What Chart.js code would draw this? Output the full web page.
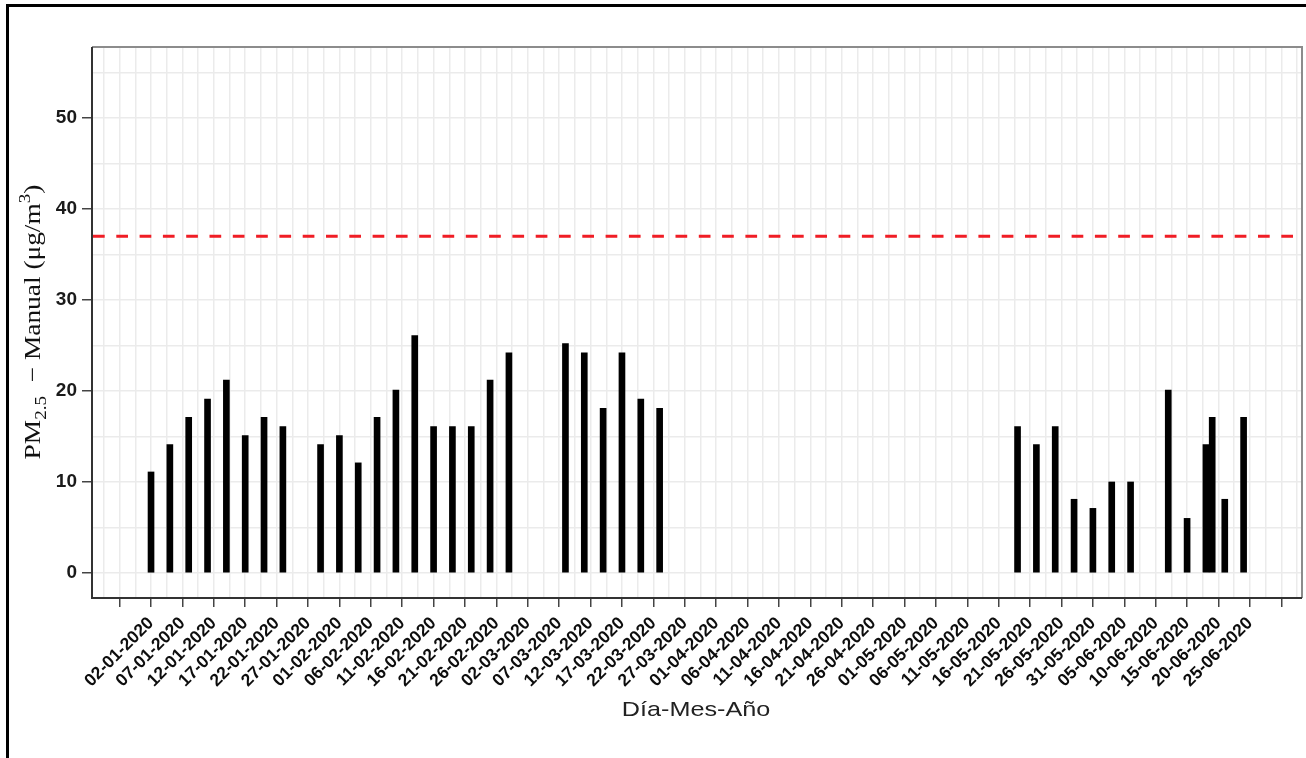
<!DOCTYPE html>
<html><head><meta charset="utf-8">
<script src="https://cdn.jsdelivr.net/npm/chart.js@4.4.1/dist/chart.umd.min.js"></script>
<style>
html,body{margin:0;padding:0;background:#fff;overflow:hidden;}
#wrap{position:relative;width:1306px;height:758px;overflow:hidden;}
#frame{position:absolute;left:6px;top:4px;width:1400px;height:900px;border-top:3px solid #000;border-left:3px solid #000;pointer-events:none;}
canvas{position:absolute;left:0;top:0;}
</style></head><body>
<div id="wrap"><canvas id="c" width="1306" height="758"></canvas><div id="frame"></div></div>
<script>
const sampleDates = ['02-01-2020','05-01-2020','08-01-2020','11-01-2020','14-01-2020','17-01-2020','20-01-2020','23-01-2020','29-01-2020','01-02-2020','04-02-2020','07-02-2020','10-02-2020','13-02-2020','16-02-2020','19-02-2020','22-02-2020','25-02-2020','28-02-2020','08-03-2020','11-03-2020','14-03-2020','17-03-2020','20-03-2020','23-03-2020','19-05-2020','22-05-2020','25-05-2020','28-05-2020','31-05-2020','03-06-2020','06-06-2020','12-06-2020','15-06-2020','18-06-2020','19-06-2020','21-06-2020','24-06-2020'];
const pm25Values = [11.1,14.1,17.1,19.1,21.2,15.1,17.1,16.1,14.1,15.1,12.1,17.1,20.1,26.1,16.1,16.1,16.1,21.2,24.2,25.2,24.2,18.1,24.2,19.1,18.1,16.1,14.1,16.1,8.1,7.1,10,10,20.1,6,14.1,17.1,8.1,17.1];
const tickLabels = ['02-01-2020','07-01-2020','12-01-2020','17-01-2020','22-01-2020','27-01-2020','01-02-2020','06-02-2020','11-02-2020','16-02-2020','21-02-2020','26-02-2020','02-03-2020','07-03-2020','12-03-2020','17-03-2020','22-03-2020','27-03-2020','01-04-2020','06-04-2020','11-04-2020','16-04-2020','21-04-2020','26-04-2020','01-05-2020','06-05-2020','11-05-2020','16-05-2020','21-05-2020','26-05-2020','31-05-2020','05-06-2020','10-06-2020','15-06-2020','20-06-2020','25-06-2020'];
const yTickValues = [0,10,20,30,40,50];
const limitValue = 37;
const xAxisTitle = 'Día-Mes-Año';
const yTitleMain = 'PM';
const yTitleSub = '2.5';
const yTitleMid = '  \u2212 Manual (\u03bcg/m';
const yTitleSup = '3';
const yTitleEnd = ')';

function dayOf(s){const [d,m,y]=s.split('-').map(Number);return Date.UTC(y,m-1,d)/86400000;}
const base = dayOf(tickLabels[0]);
const toDay = s => dayOf(s) - base;
const labelMap = {};
tickLabels.forEach(l => { labelMap[toDay(l)] = l; });
const points = sampleDates.map((d,i)=>({x: toDay(d), y: pm25Values[i]}));

const FONT_SANS = '"Liberation Sans", Arial, sans-serif';
const FONT_SERIF = '"Liberation Serif", "Times New Roman", serif';

const decor = {
  id:'decor',
  afterDatasetsDraw(chart){
    const {ctx, chartArea:a, scales:{x,y}} = chart;
    const yl = y.getPixelForValue(limitValue);
    ctx.save();
    ctx.strokeStyle = '#f01d25';
    ctx.lineWidth = 3;
    ctx.setLineDash([11.7,11.6]);
    ctx.beginPath(); ctx.moveTo(a.left+1, yl); ctx.lineTo(a.right, yl); ctx.stroke();
    ctx.setLineDash([]);
    ctx.strokeStyle = '#8c8c8c'; ctx.lineWidth = 2;
    ctx.beginPath(); ctx.moveTo(a.left, a.top); ctx.lineTo(a.right, a.top); ctx.lineTo(a.right, a.bottom); ctx.stroke();
    ctx.strokeStyle = '#333'; ctx.lineWidth = 2;
    ctx.beginPath(); ctx.moveTo(a.left, a.top); ctx.lineTo(a.left, a.bottom); ctx.lineTo(a.right, a.bottom); ctx.stroke();
    // x title
    ctx.save();
    ctx.fillStyle = '#222';
    ctx.font = '21px ' + FONT_SANS;
    ctx.textAlign = 'center'; ctx.textBaseline = 'alphabetic';
    ctx.translate(696, 716); ctx.scale(1.2, 1);
    ctx.fillText(xAxisTitle, 0, 0);
    ctx.restore();
    // y title
    const big = '23px ' + FONT_SERIF, small = '16px ' + FONT_SERIF;
    const parts = [
      {t:yTitleMain, f:big, dy:0},
      {t:yTitleSub, f:small, dy:6},
      {t:yTitleMid, f:big, dy:0},
      {t:yTitleSup, f:small, dy:-10},
      {t:yTitleEnd, f:big, dy:0}
    ];
    const stretch = 1.19;
    let total = 0;
    parts.forEach(p => { ctx.font = p.f; p.w = ctx.measureText(p.t).width; total += p.w; });
    ctx.translate(40, 322 + total*stretch/2);
    ctx.rotate(-Math.PI/2);
    ctx.scale(stretch, 1);
    ctx.textAlign = 'left'; ctx.fillStyle = '#111';
    let cx = 0;
    parts.forEach(p => { ctx.font = p.f; ctx.fillText(p.t, cx, p.dy); cx += p.w; });
    ctx.restore();
  }
};

new Chart(document.getElementById('c'), {
  type:'bar',
  data:{datasets:[{data:points, backgroundColor:'#000', borderWidth:0, barThickness:6}]},
  options:{
    responsive:false, animation:false, events:[],
    layout:{padding:{top:47,right:4,left:0,bottom:0}},
    plugins:{legend:{display:false}, tooltip:{enabled:false}},
    scales:{
      x:{
        type:'linear', min:-9.4, max:183.3, offset:false,
        border:{display:false},
        grid:{offset:false, color:'#ebebeb', lineWidth:1.5, drawTicks:true, tickLength:9, tickWidth:1.5,
          tickColor: c => (c.tick && Math.abs(c.tick.value % 5) < 1e-9) ? '#444' : 'rgba(0,0,0,0)'},
        ticks:{stepSize:2.5, includeBounds:false, autoSkip:false, minRotation:45, maxRotation:45, padding:6,
          color:'#0d0d0d', font:{family:FONT_SANS, size:17.5, weight:'bold'},
          callback: v => labelMap[v] !== undefined ? labelMap[v] : ''},
        afterFit: s => { s.height = 160; s.paddingLeft = 0; s.paddingRight = 0; }
      },
      y:{
        type:'linear', min:-2.75, max:57.8,
        border:{display:false},
        grid:{offset:false, color:'#ebebeb', lineWidth:1.5, drawTicks:true, tickLength:10, tickWidth:1.5,
          tickColor: c => (c.tick && yTickValues.includes(c.tick.value)) ? '#444' : 'rgba(0,0,0,0)'},
        ticks:{stepSize:5, includeBounds:false, padding:5, color:'#1a1a1a',
          font:{family:FONT_SANS, size:19, weight:'bold'},
          callback: v => yTickValues.includes(v) ? String(v) : ''},
        afterFit: s => { s.width = 92; s.paddingTop = 0; s.paddingBottom = 0; }
      }
    }
  },
  plugins:[decor]
});
</script>
</body></html>
